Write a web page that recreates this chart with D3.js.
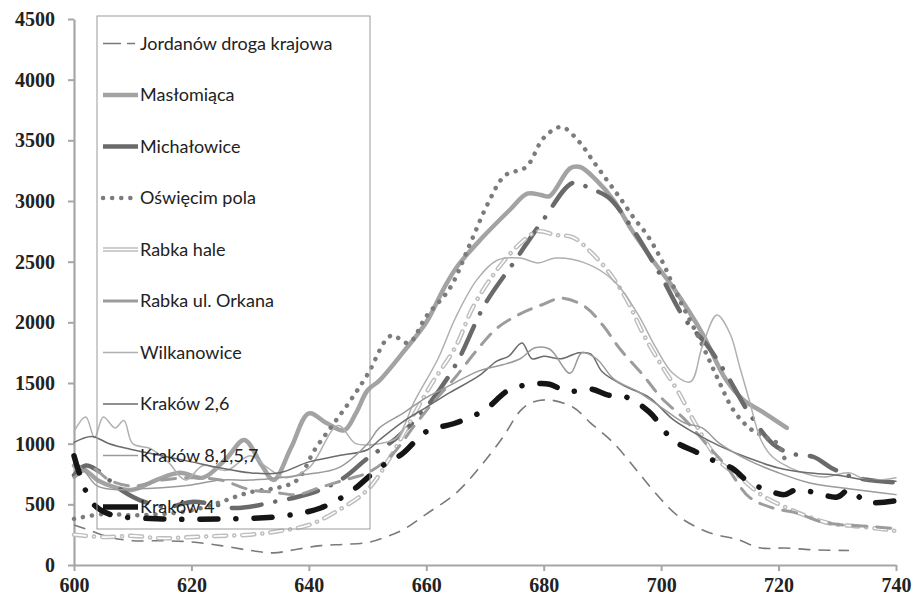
<!DOCTYPE html>
<html>
<head>
<meta charset="utf-8">
<script src="https://cdn.jsdelivr.net/npm/d3@7"></script>
<style>
  body { margin: 0; background: #fff; }
  #chart text { fill: #222; }
</style>
</head>
<body>
<div id="chart"></div>
<script>
// series names, same order as the legend
var names = ["Jordanów droga krajowa", "Masłomiąca", "Michałowice", "Oświęcim pola", "Rabka hale",
  "Rabka ul. Orkana", "Wilkanowice", "Kraków 2,6", "Kraków 8,1,5,7", "Kraków 4"];

var xTicks = [600, 620, 640, 660, 680, 700, 720, 740];
var yTicks = [0, 500, 1000, 1500, 2000, 2500, 3000, 3500, 4000, 4500];

// wavelength (nm) and value
var wlJordanow  = [600,603,606,610,615,620,625,630,634,638,642,646,650,653,656,660,665,669,673,676,678,681,685,688,692,696,700,703,708,713,717,721,726,732];
var valJordanow = [330,280,230,200,200,190,160,120,100,130,160,170,185,230,290,420,590,800,1050,1270,1340,1360,1300,1170,1000,770,540,400,270,210,140,140,125,120];

var wlMaslomiaca  = [600,602,604,607,610,614,618,622,626,629,632,634,637,640,643,646,648,650,652,656,660,663,665.2,669.2,674.3,677.2,679.5,681,684.5,686.2,689,692,695,698.6,702,707,711,714,717,721.4];
var valMaslomiaca = [820,780,700,640,620,700,760,720,880,1030,820,700,970,1250,1170,1110,1250,1440,1520,1750,2000,2280,2456,2680,2930,3060,3050,3040,3270,3280,3170,3000,2760,2510,2290,1910,1530,1360,1270,1130];

var wlMichalowice  = [600,602,604,608,612,616,620,624,627,630,634,638,642,646,650,655,660,665,670,675,680,685,688,691,695,700,704,708,711,715,719,722,726,729,733,740];
var valMichalowice = [740,820,780,620,520,480,520,500,470,480,520,560,620,720,880,1050,1300,1650,2150,2500,2850,3150,3100,3030,2780,2380,2030,1800,1580,1250,1000,920,890,800,720,680];

var wlOswiecim  = [600,605,610,615,620,625,630,635,638,641,644,647,650,654,657,660,664,667.4,670.5,673.4,677,680,683,686,688.4,690.8,693,695.2,697.6,700,703,706.6,709.5,712.3,715,717.5,719.7,721];
var valOswiecim = [380,420,410,420,450,520,600,640,700,950,1150,1350,1570,1890,1830,2050,2280,2640,2980,3210,3280,3520,3610,3490,3330,3170,3025,2870,2720,2520,2200,1855,1550,1277,1130,1060,1005,880];

var wlRabkaHale  = [600,605,610,615,620,625,630,635,640,645,650,654,658,661,665,668,672,676,679,682,685,688,691,694,697,700,703,706,710,713,717,721,725,729,733,737,740];
var valRabkaHale = [250,230,240,220,230,240,250,280,330,450,620,900,1250,1500,1800,2130,2430,2650,2750,2720,2700,2580,2420,2200,1900,1650,1420,1150,850,740,580,480,400,340,320,300,280];

var wlOrkana  = [600,603,606,610,615,620,625,630,634,638,642,646,650,654,658,661,665,668.6,672,676,680,683,687,690,693,697,700,704,708,711,715,719,723,727,731,735,740];
var valOrkana = [720,800,700,650,700,720,700,620,600,580,640,700,760,900,1150,1330,1550,1770,1950,2070,2150,2200,2130,1980,1780,1560,1380,1200,980,820,560,470,430,360,330,320,300];

var wlWilkanowice  = [600,602,603.5,605,607,608.5,610,613,616,619,622,626,630,633,636,640,645,648,652,655,658,662,665,668.6,672,676,679,682,687,692,696,699,702,705,707,709.5,711.7,713.4,715,717,719,723,727.6,732,735,740];
var valWilkanowice = [1100,1220,1050,1220,1130,1190,1000,960,850,700,820,780,900,800,720,800,1150,1000,1000,1050,1350,1700,2040,2350,2510,2530,2490,2530,2490,2340,2070,1800,1580,1510,1800,2060,1910,1630,1360,1030,890,780,725,760,700,720];

var wlKrakow26  = [600,603,606,610,615,620,625,630,635,640,645,650,652,656,660,664,669,672,674,676.3,678,680,683,686,688,690,694,698,702,706,710,715,720,725,730,735,740];
var valKrakow26 = [1010,1060,1000,950,900,850,800,760,760,850,900,950,1030,1180,1300,1420,1560,1680,1720,1830,1700,1720,1700,1750,1740,1590,1470,1380,1200,1080,980,880,800,760,740,700,690];

var wlKrakow8157  = [600,602,604,608,612,616,620,625,630,635,640,645,650,652,656,660,664,669,673,676,678.5,681,684.5,686.5,689,692,696,700,704,707,710,715,720,725,730,735,740];
var valKrakow8157 = [860,760,650,620,630,640,660,700,700,720,750,800,1000,1130,1250,1380,1480,1600,1650,1700,1790,1780,1580,1750,1700,1530,1430,1300,1170,1130,1000,860,760,680,640,610,580];

var wlKrakow4  = [600,603,606,615,625,635,642,647,652,656,660,665,670,674,678,681,684,688,691,694,698,702,706,708,712,715,718,721,723,726,730,732,735,740];
var valKrakow4 = [900,520,420,380,380,400,470,600,800,920,1100,1170,1280,1440,1490,1490,1430,1450,1400,1385,1260,1030,930,880,800,680,620,580,620,600,560,620,520,530];

var margin = { top: 19, left: 74, right: 19, bottom: 34 },
    width = 896 - margin.left,
    height = 565 - margin.top;

var svg = d3.select("#chart")
  .append("svg")
  .attr("width", 915)
  .attr("height", 599)
  .append("g")
  .attr("transform", "translate(" + margin.left + "," + margin.top + ")");

var xScale = d3.scaleLinear().domain([600, 740]).range([0, width]);
var yScale = d3.scaleLinear().domain([0, 4500]).range([height, 0]);

// styles for each series (kept apart from the values)
var styles = [
  { color: "#7a7a7a", w: 1.6, dash: "12,8", cap: "butt" },
  { color: "#a3a3a3", w: 4.5, dash: null, cap: "round" },
  { color: "#6a6a6a", w: 4.5, dash: "30,14,0.1,14", cap: "round" },
  { color: "#7c7c7c", w: 4.5, dash: "0.1,9", cap: "round" },
  { color: "#bdbdbd", w: 4.5, dash: "12,8,0.1,8", cap: "round", hollow: true },
  { color: "#9c9c9c", w: 3, dash: "14,10", cap: "round" },
  { color: "#b0b0b0", w: 1.5, dash: null, cap: "round" },
  { color: "#6b6b6b", w: 1.5, dash: null, cap: "round" },
  { color: "#9a9a9a", w: 1.5, dash: null, cap: "round" },
  { color: "#151515", w: 5.5, dash: "18,18,0.1,18", cap: "round" }
];

var wls = [wlJordanow, wlMaslomiaca, wlMichalowice, wlOswiecim, wlRabkaHale, wlOrkana, wlWilkanowice, wlKrakow26, wlKrakow8157, wlKrakow4];
var vals = [valJordanow, valMaslomiaca, valMichalowice, valOswiecim, valRabkaHale, valOrkana, valWilkanowice, valKrakow26, valKrakow8157, valKrakow4];

var series = names.map(function(n, i) {
  return { name: n, style: styles[i], points: wls[i].map(function(x, j) { return { x: x, y: vals[i][j] }; }) };
});

// axes
var axisColor = "#a6a6a6";
var yAxis = svg.append("g").call(d3.axisLeft(yScale).tickValues(yTicks).tickFormat(d3.format("d")).tickSize(6).tickSizeOuter(0));
var xAxis = svg.append("g").attr("transform", "translate(0," + height + ")")
  .call(d3.axisBottom(xScale).tickValues(xTicks).tickFormat(d3.format("d")).tickSize(6).tickSizeOuter(0));
[xAxis, yAxis].forEach(function(a) {
  a.attr("font-family", null).attr("font-size", null);
  a.select(".domain").attr("stroke", axisColor).attr("stroke-width", 2.2);
  a.selectAll(".tick line").attr("stroke", axisColor).attr("stroke-width", 2);
  a.selectAll("text")
    .style("font-family", "'Liberation Serif', 'Times New Roman', serif")
    .style("font-weight", "bold")
    .style("font-size", "20px")
    .attr("fill", "#222");
});
yAxis.selectAll("text").attr("x", -19);
xAxis.selectAll("text").attr("y", 13);

var line = d3.line()
  .x(function(d) { return xScale(d.x); })
  .y(function(d) { return yScale(d.y); })
  .curve(d3.curveCatmullRom.alpha(0.5));

function styleLine(sel, s) {
  sel.attr("fill", "none")
    .attr("stroke", s.color)
    .attr("stroke-width", s.w)
    .attr("stroke-linecap", s.cap)
    .attr("stroke-linejoin", "round")
    .attr("stroke-dasharray", s.dash);
}

series.forEach(function(s) {
  styleLine(svg.append("path").datum(s.points).attr("d", line), s.style);
  if (s.style.hollow) {
    svg.append("path").datum(s.points).attr("d", line)
      .attr("fill", "none").attr("stroke", "#fff").attr("stroke-width", 1.6)
      .attr("stroke-linecap", "round").attr("stroke-dasharray", s.style.dash);
  }
});

// legend
var legend = svg.append("g").attr("transform", "translate(" + (97 - margin.left) + "," + (16 - margin.top) + ")");
legend.append("rect")
  .attr("x", 0).attr("y", 0).attr("width", 273).attr("height", 513)
  .attr("fill", "none").attr("stroke", "#9a9a9a").attr("stroke-width", 1);

var rowY = d3.scaleLinear().domain([0, 9]).range([27.5, 491]);
series.forEach(function(s, i) {
  var g = legend.append("g").attr("transform", "translate(0," + rowY(i) + ")");
  var sampleDash = s.style.dash;
  if (i === 0) sampleDash = "18,6,8,40";
  if (i === 2 || i === 4 || i === 5 || i === 9) sampleDash = null;
  g.append("line").attr("x1", 6).attr("x2", 41).attr("y1", 0).attr("y2", 0)
    .attr("stroke", s.style.color).attr("stroke-width", s.style.w)
    .attr("stroke-linecap", i === 3 ? "round" : "butt")
    .attr("stroke-dasharray", i === 3 ? "0.1,9" : sampleDash);
  if (s.style.hollow) {
    g.append("line").attr("x1", 6).attr("x2", 41).attr("y1", 0).attr("y2", 0)
      .attr("stroke", "#fff").attr("stroke-width", 1.6);
  }
  g.append("text").attr("x", 43).attr("y", 0).attr("dy", "0.35em")
    .attr("font-family", "Lato, 'Open Sans', sans-serif")
    .attr("font-size", 18)
    .text(s.name);
});
</script>
</body>
</html>
